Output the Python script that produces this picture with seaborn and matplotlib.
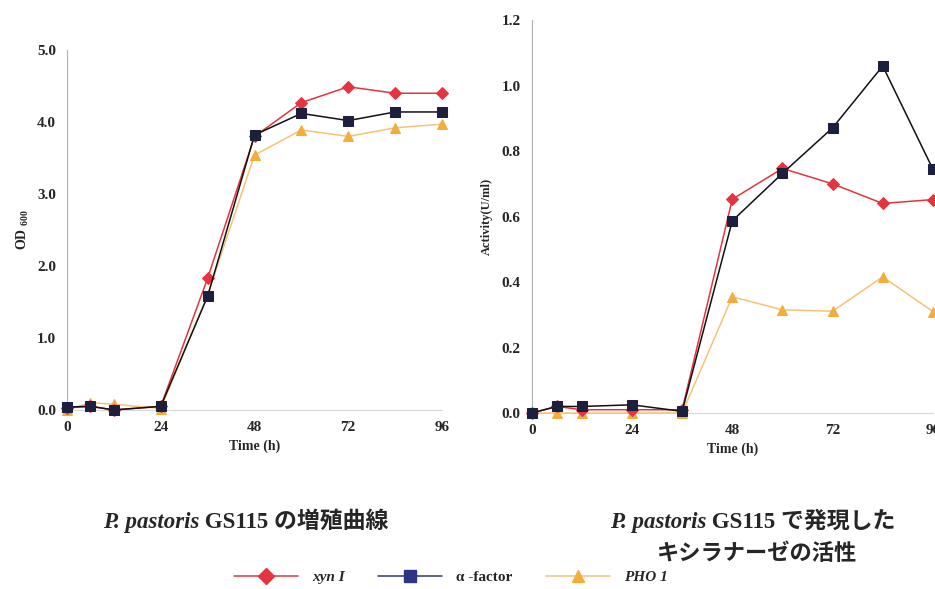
import seaborn as sns
import pandas as pd
import matplotlib.pyplot as plt
from matplotlib.lines import Line2D

# Datos
tiempo = [0, 6, 12, 24, 36, 48, 60, 72, 84, 96]
series = ["xyn I", "α -factor", "PHO 1"]

od_xyn = [0.03, 0.05, 0.0, 0.05, 1.83, 3.80, 4.27, 4.49, 4.40, 4.40]
od_alpha = [0.04, 0.05, 0.0, 0.05, 1.58, 3.82, 4.12, 4.02, 4.14, 4.14]
od_pho = [0.0, 0.10, 0.08, 0.02, 1.60, 3.54, 3.89, 3.80, 3.92, 3.97]

act_xyn = [0.0, 0.02, 0.01, 0.01, 0.01, 0.653, 0.747, 0.70, 0.64, 0.652]
act_alpha = [0.0, 0.02, 0.02, 0.025, 0.005, 0.587, 0.732, 0.871, 1.06, 0.745]
act_pho = [0.0, 0.0, 0.0, 0.0, 0.0, 0.355, 0.315, 0.311, 0.416, 0.31]

especie = "P. pastoris"
titulo_izq = " GS115 の増殖曲線"
titulo_der_1 = " GS115 で発現した"
titulo_der_2 = "キシラナーゼの活性"
etiquetas = ["xyn I", "α -factor", "PHO 1"]

sns.set_style("white")
plt.rcParams['font.family'] = ['Liberation Serif', 'Noto Sans CJK JP', 'DejaVu Sans']
plt.rcParams['font.weight'] = 'bold'
plt.rcParams['mathtext.fontset'] = 'custom'
plt.rcParams['mathtext.rm'] = 'Liberation Serif:bold'
plt.rcParams['mathtext.it'] = 'Liberation Serif:italic:bold'
plt.rcParams['mathtext.bf'] = 'Liberation Serif:bold'

colores = {"xyn I": "#e3343f", "α -factor": "#1d1f3e", "PHO 1": "#f2ad3c"}
lineas = {"xyn I": "#e3343f", "α -factor": "#111111", "PHO 1": "#f5c27a"}
marcadores = {"xyn I": "D", "α -factor": "s", "PHO 1": "^"}
tamanos = {"xyn I": 6, "α -factor": 7, "PHO 1": 7}

df_od = pd.DataFrame({"t": tiempo * 3, "v": od_xyn + od_alpha + od_pho,
                      "s": [s for s in series for _ in tiempo]})
df_act = pd.DataFrame({"t": tiempo * 3, "v": act_xyn + act_alpha + act_pho,
                       "s": [s for s in series for _ in tiempo]})

fig = plt.figure(figsize=(9.35, 5.89), dpi=100)
ax1 = fig.add_axes([0.0717, 0.304, 0.401, 0.611])
ax2 = fig.add_axes([0.5687, 0.2988, 0.429, 0.667])

for ax, df in [(ax1, df_od), (ax2, df_act)]:
    for s in ["PHO 1", "xyn I", "α -factor"]:
        d = df[df["s"] == s]
        sns.lineplot(data=d, x="t", y="v", ax=ax, color=lineas[s], lw=1.1,
                     marker=marcadores[s], markersize=tamanos[s],
                     markerfacecolor=colores[s], markeredgecolor=colores[s],
                     clip_on=False, zorder=3, legend=False)
    ax.set_xlim(0, 96)
    ax.set_xticks([0, 24, 48, 72, 96])
    for sp in ["top", "right"]:
        ax.spines[sp].set_visible(False)
    ax.spines["left"].set_color("#b0b0b0")
    ax.spines["bottom"].set_color("#d8d8d8")
    ax.tick_params(direction="in", length=3, color="#b0b0b0", labelsize=11, pad=8)
    ax.set_xlabel("Time (h)", fontsize=10, fontweight="bold", labelpad=4)

ax1.set_ylim(0, 5)
ax1.set_yticks([0, 1, 2, 3, 4, 5])
ax1.set_yticklabels(["0.0", "1.0", "2.0", "3.0", "4.0", "5.0"])
ax1.set_ylabel(r"OD $_{600}$", fontsize=10, fontweight="bold", labelpad=4)

ax2.set_ylim(0, 1.2)
ax2.set_yticks([0, 0.2, 0.4, 0.6, 0.8, 1.0, 1.2])
ax2.set_yticklabels(["0.0", "0.2", "0.4", "0.6", "0.8", "1.0", "1.2"])
ax2.set_ylabel("Activity(U/ml)", fontsize=9, fontweight="bold", labelpad=6)


def titulo(xc, y, resto):
    # cursiva + resto, centrado en xc
    t1 = fig.text(0, y, especie, fontsize=16.5, fontweight="bold", fontstyle="italic", va="baseline")
    t2 = fig.text(0, y, resto, fontsize=16.5, fontweight="bold", va="baseline")
    r = fig.canvas.get_renderer()
    w1 = t1.get_window_extent(r).width / fig.bbox.width
    w2 = t2.get_window_extent(r).width / fig.bbox.width
    x0 = xc - (w1 + w2) / 2
    t1.set_x(x0)
    t2.set_x(x0 + w1)


titulo(0.263, 0.104, titulo_izq)
titulo(0.805, 0.104, titulo_der_1)
fig.text(0.81, 0.05, titulo_der_2, ha="center", va="baseline", fontsize=16, fontweight="bold")

manejadores = []
for s in series:
    c = "#2b3585" if s == "α -factor" else colores[s]
    lc = "#2b3585" if s == "α -factor" else lineas[s]
    manejadores.append(Line2D([], [], color=lc, lw=1.1, marker=marcadores[s],
                              markersize=tamanos[s] + 2, markerfacecolor=c, markeredgecolor=c))
leg = fig.legend(manejadores, etiquetas, loc="center", bbox_to_anchor=(0.482, 0.02), ncol=3,
                 frameon=False, fontsize=11, handlelength=4.2, columnspacing=2.2, handletextpad=0.9)
leg.get_texts()[0].set_fontstyle("italic")
leg.get_texts()[2].set_fontstyle("italic")

plt.savefig("out.png", dpi=100)
plt.close()
